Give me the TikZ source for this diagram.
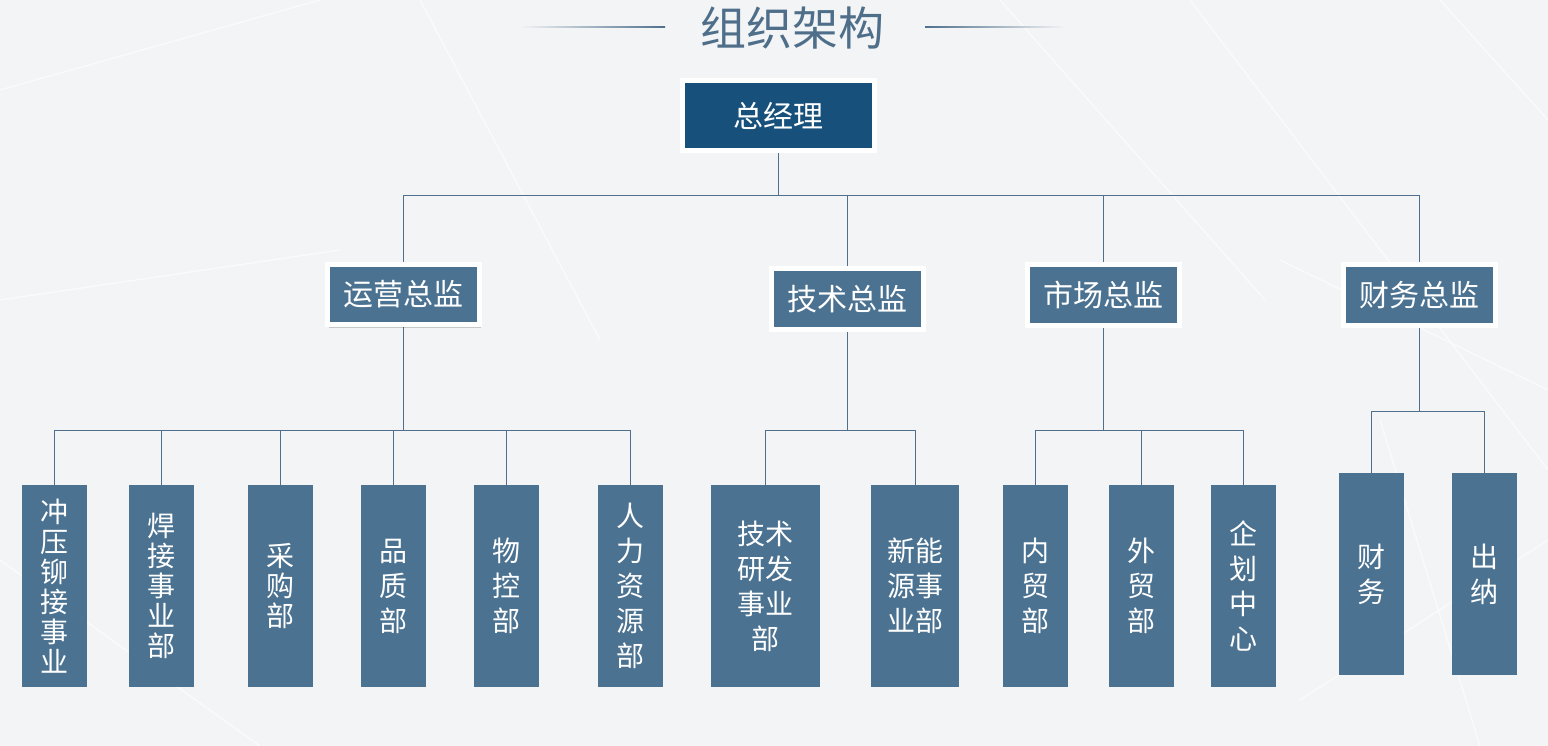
\documentclass[tikz,border=0pt]{standalone}
\usepackage{fontspec}
\setmainfont{Noto Sans CJK SC}
\usetikzlibrary{shadows,calc}
\pgfdeclarelayer{bg}
\pgfdeclarelayer{lines}
\pgfsetlayers{bg,lines,main}
\definecolor{bgc}{HTML}{F3F4F6}
\definecolor{boxc}{HTML}{4B7291}
\definecolor{rootc}{HTML}{17507B}
\definecolor{linec}{HTML}{4F6F8C}
\definecolor{titlec}{HTML}{4E6E89}
\begin{document}
\begin{tikzpicture}[x=1pt,y=-1pt,
  conn/.style={draw=linec, line width=0.9pt},
  headbox/.style={fill=boxc, draw=white, line width=5pt, minimum width=152pt, minimum height=60pt, inner sep=0pt, text=white, font=\fontsize{30}{36}\selectfont, drop shadow={shadow xshift=1.5pt, shadow yshift=-3pt, opacity=0.18, fill=black}},
  rootbox/.style={headbox, fill=rootc, minimum width=192pt, minimum height=70pt},
  deptbox/.style={fill=boxc, minimum width=65pt, minimum height=202pt, inner sep=0pt, text=white, align=center, font=\fontsize{28}{35}\selectfont},
  tight/.style={font=\fontsize{28}{30}\selectfont},
  deco/.style={draw=white, line width=1.5pt, opacity=0.55}]
\useasboundingbox (0,0) rectangle (1548,746);
\begin{pgfonlayer}{bg}
  \fill[bgc] (0,0) rectangle (1548,746);
  \draw[deco] (1000,0) -- (1265,300);
  \draw[deco] (1190,0) -- (1548,470);
  \draw[deco] (1440,0) -- (1548,120);
  \draw[deco] (1280,260) -- (1548,390);
  \draw[deco] (1300,700) -- (1548,540);
  \draw[deco] (1380,420) -- (1480,746);
  \draw[deco] (0,90) -- (320,0);
  \draw[deco] (0,300) -- (340,250);
  \draw[deco] (0,560) -- (260,746);
  \draw[deco] (420,0) -- (600,340);
  \shade[left color=bgc, right color=linec] (520,26.4) rectangle (665,27.6);
  \shade[left color=linec, right color=bgc] (925,26.4) rectangle (1065,27.6);
\end{pgfonlayer}
\node[text=titlec, font=\fontsize{46}{50}\selectfont, inner sep=0pt] (title) at (792,28) {组织架构};
\node[rootbox] (root) at (778.5,115.5) {总经理};
\node[headbox] (yy) at (403.5,294.5) {运营总监};
\node[headbox] (js) at (847.5,299) {技术总监};
\node[headbox] (sc) at (1103.5,295) {市场总监};
\node[headbox] (cw) at (1419.5,295) {财务总监};
\node[deptbox, tight] (b1) at (54.5,586) {冲\\压\\铆\\接\\事\\业};
\node[deptbox, tight] (b2) at (161.5,586) {焊\\接\\事\\业\\部};
\node[deptbox, tight] (b3) at (280.5,586) {采\\购\\部};
\node[deptbox] (b4) at (393.5,586) {品\\质\\部};
\node[deptbox] (b5) at (506.5,586) {物\\控\\部};
\node[deptbox] (b6) at (630.5,586) {人\\力\\资\\源\\部};
\node[deptbox, minimum width=109pt] (b7) at (765.5,586) {技术\\研发\\事业\\部};
\node[deptbox, minimum width=88pt] (b8) at (915,586) {新能\\源事\\业部};
\node[deptbox] (b9) at (1035,586) {内\\贸\\部};
\node[deptbox] (b10) at (1141,586) {外\\贸\\部};
\node[deptbox] (b11) at (1243,586) {企\\划\\中\\心};
\node[deptbox] (b12) at (1371,574) {财\\务};
\node[deptbox] (b13) at (1484,574) {出\\纳};
\begin{pgfonlayer}{lines}
  \coordinate (busTop) at (778.5,195);
  \draw[conn] (root.south) -- (busTop);
  \foreach \c in {yy,js,sc,cw} \draw[conn] (busTop) -| (\c.north);
  \coordinate (yyBus) at (403.5,430);
  \draw[conn] (yy.south) -- (yyBus);
  \foreach \c in {b1,b2,b3,b4,b5,b6} \draw[conn] (yyBus) -| (\c.north);
  \coordinate (jsBus) at (847.5,430);
  \draw[conn] (js.south) -- (jsBus);
  \foreach \c in {b7,b8} \draw[conn] (jsBus) -| (\c.north);
  \coordinate (scBus) at (1103.5,430);
  \draw[conn] (sc.south) -- (scBus);
  \foreach \c in {b9,b10,b11} \draw[conn] (scBus) -| (\c.north);
  \coordinate (cwBus) at (1419.5,411);
  \draw[conn] (cw.south) -- (cwBus);
  \foreach \c in {b12,b13} \draw[conn] (cwBus) -| (\c.north);
\end{pgfonlayer}
\end{tikzpicture}
\end{document}
